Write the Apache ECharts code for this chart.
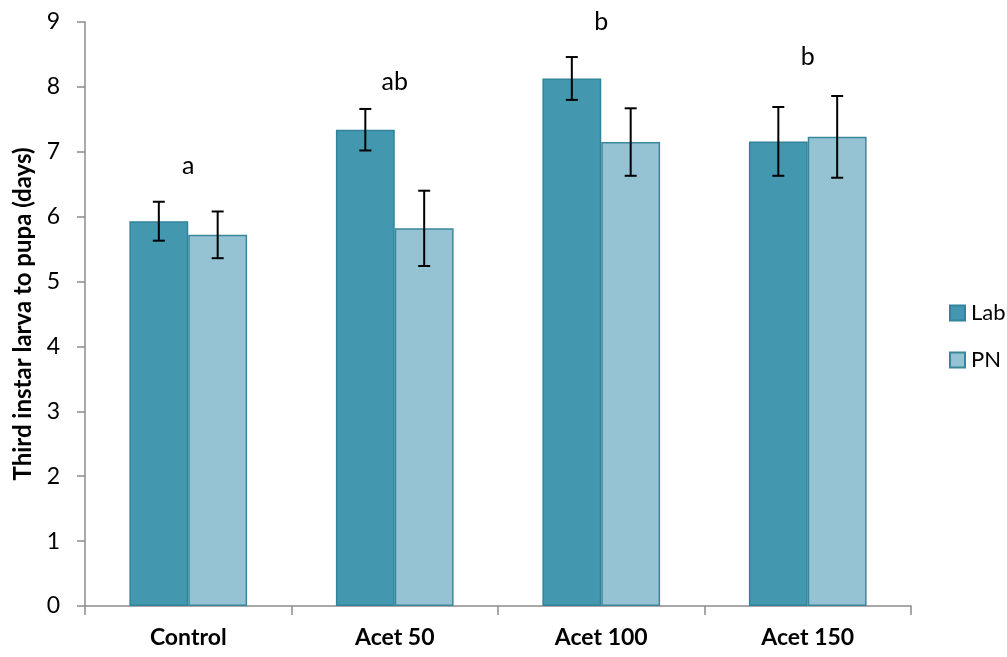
<!DOCTYPE html>
<html>
<head>
<meta charset="utf-8">
<script src="https://cdn.jsdelivr.net/npm/echarts@6/dist/echarts.min.js"></script>
<style>
  html, body { margin: 0; padding: 0; background: #ffffff; }
  #chart { width: 1007px; height: 657px; }
</style>
</head>
<body>
<div id="chart"></div>
<script>
// Development time, third instar larva to pupa, by treatment
const categories = ['Control', 'Acet 50', 'Acet 100', 'Acet 150'];
const seriesNames = ['Lab', 'PN'];
const labMeans = [5.93, 7.34, 8.13, 7.16];
const labErr = [0.30, 0.32, 0.33, 0.53];
const pnMeans = [5.72, 5.82, 7.15, 7.23];
const pnErr = [0.36, 0.58, 0.52, 0.63];
// significance letters and the height (in days) where each is written
const letters = ['a', 'ab', 'b', 'b'];
const letterAt = [6.78, 8.07, 9.0, 8.46];
const yTicks = [0, 1, 2, 3, 4, 5, 6, 7, 8, 9];

const FONT = 'Lato, "Noto Sans", sans-serif';
const CAT_GAP = 0.43; // share of each category band left empty

const errData = [];
labMeans.forEach((m, i) => errData.push([i, m - labErr[i], m + labErr[i], 0]));
pnMeans.forEach((m, i) => errData.push([i, m - pnErr[i], m + pnErr[i], 1]));

const letterData = letters.map((t, i) => [i, letterAt[i], t]);

const chart = echarts.init(document.getElementById('chart'), null, { renderer: 'canvas' });

chart.setOption({
  backgroundColor: '#ffffff',
  animation: false,
  textStyle: { fontFamily: FONT },
  grid: { left: 85, right: 96, top: 22, bottom: 51, containLabel: false },
  legend: {
    orient: 'vertical',
    left: 944,
    top: 297,
    itemWidth: 15,
    itemHeight: 15,
    itemGap: 25,
    icon: 'rect',
    data: seriesNames,
    textStyle: { fontFamily: FONT, fontSize: 22, color: '#000', padding: [0, 0, 0, 1] }
  },
  xAxis: {
    type: 'category',
    data: categories,
    axisLine: { lineStyle: { color: '#8c8c8c', width: 1.5 } },
    axisTick: { show: true, length: 9, alignWithLabel: false, lineStyle: { color: '#8c8c8c', width: 1.5 } },
    axisLabel: { fontFamily: FONT, fontSize: 23, fontWeight: 'bold', color: '#000', margin: 20 },
    splitLine: { show: false }
  },
  yAxis: {
    type: 'value',
    min: yTicks[0],
    max: yTicks[yTicks.length - 1],
    interval: 1,
    name: 'Third instar larva to pupa (days)',
    nameLocation: 'middle',
    nameGap: 50,
    nameTextStyle: { fontFamily: FONT, fontSize: 24, fontWeight: 'bold', color: '#000' },
    axisLine: { show: true, lineStyle: { color: '#8c8c8c', width: 1.5 } },
    axisTick: { show: true, length: 8, lineStyle: { color: '#8c8c8c', width: 1.5 } },
    axisLabel: { fontFamily: FONT, fontSize: 23, color: '#000', margin: 25 },
    splitLine: { show: false }
  },
  series: [
    {
      name: seriesNames[0],
      type: 'bar',
      data: labMeans,
      barGap: '0%',
      barCategoryGap: (CAT_GAP * 100) + '%',
      itemStyle: { color: '#4398b0', borderColor: '#31839a', borderWidth: 1.5 }
    },
    {
      name: seriesNames[1],
      type: 'bar',
      data: pnMeans,
      barGap: '0%',
      barCategoryGap: (CAT_GAP * 100) + '%',
      itemStyle: { color: '#95c3d4', borderColor: '#3a879c', borderWidth: 1.5 }
    },
    {
      // error bars: mean ± error, centred on each bar
      type: 'custom',
      data: errData,
      z: 5,
      silent: true,
      renderItem: function (params, api) {
        const cat = api.value(0);
        const lo = api.coord([cat, api.value(1)]);
        const hi = api.coord([cat, api.value(2)]);
        const band = api.size([1, 0])[0];
        const barW = band * (1 - CAT_GAP) / 2;
        const x = lo[0] + (api.value(3) === 0 ? -barW / 2 : barW / 2);
        const cap = 6;
        const style = { stroke: '#000', lineWidth: 2, fill: null };
        return {
          type: 'group',
          children: [
            { type: 'line', shape: { x1: x, y1: hi[1], x2: x, y2: lo[1] }, style: style },
            { type: 'line', shape: { x1: x - cap, y1: hi[1], x2: x + cap, y2: hi[1] }, style: style },
            { type: 'line', shape: { x1: x - cap, y1: lo[1], x2: x + cap, y2: lo[1] }, style: style }
          ]
        };
      }
    },
    {
      // significance letters above each treatment group
      type: 'custom',
      data: letterData,
      z: 6,
      silent: true,
      renderItem: function (params, api) {
        const p = api.coord([api.value(0), api.value(1)]);
        return {
          type: 'text',
          x: p[0],
          y: p[1],
          style: {
            text: letterData[params.dataIndex][2],
            fontFamily: FONT,
            fontSize: 25,
            fill: '#000',
            align: 'center',
            verticalAlign: 'middle'
          }
        };
      }
    }
  ]
});
</script>
</body>
</html>
